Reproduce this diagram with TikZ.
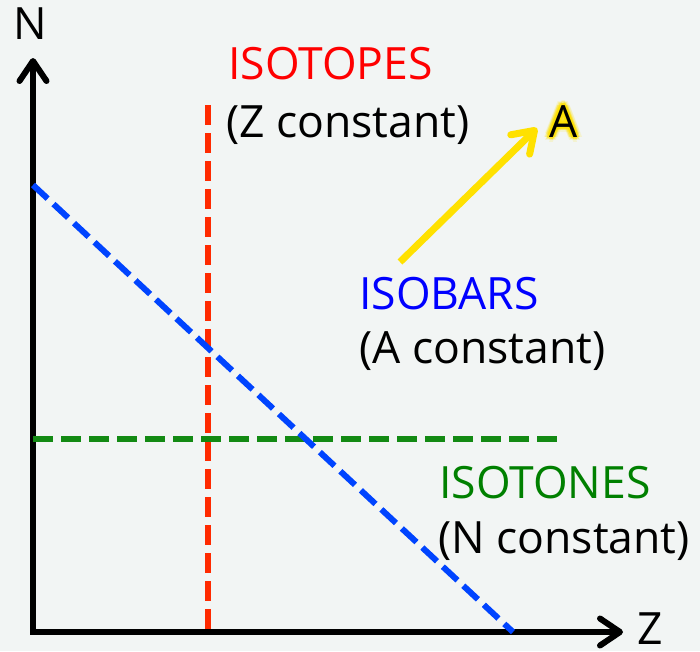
\documentclass[tikz,border=0pt]{standalone}
\usepackage{fontspec}
\setmainfont{Open Sans}
\usepackage{xcolor}
\usetikzlibrary{arrows.meta}
\definecolor{paper}{HTML}{F2F5F4}
\definecolor{zred}{HTML}{FF2A00}
\definecolor{ablue}{HTML}{0044FF}
\definecolor{ngreen}{HTML}{138A13}
\definecolor{glow}{HTML}{FFE100}

\begin{document}
\begin{tikzpicture}[x=1pt,y=-1pt,>={Straight Barb[length=20pt,width=27pt,round]},
  axis/.style={line width=6pt,<->},
  level/.style={line width=6pt,dash pattern=on 20pt off 8pt},
  lbl/.style={anchor=base west,inner sep=0pt,font=\fontsize{44.5}{52}\selectfont}]
\fill[paper] (0,0) rectangle (700,651);
\useasboundingbox (0,0) rectangle (700,651);
% axes
\coordinate (origin) at (33,632);
\coordinate (ntip) at (33,58);
\coordinate (ztip) at (623,632);
\draw[axis] (ntip) -- (origin) -- (ztip);
\node[lbl,anchor=base] (nlab) at (30,39) {N};
\node[lbl,anchor=base] (zlab) at (650,644) {Z};
% constant lines
\coordinate (zTop) at (208,105);
\coordinate (zBot) at (208,632);
\coordinate (aTop) at (33,185);
\coordinate (aBot) at (513,632);
\coordinate (nLeft) at (33,439);
\coordinate (nRight) at (562,439);
\draw[level,zred] (zTop) -- (zBot);
\draw[level,ngreen] (nLeft) -- (nRight);
\draw[level,ablue] (aTop) -- (aBot);
% labels
\node[lbl,text=red] (isotopes) at (228,79) {ISOTOPES};
\node[lbl] (zconst) at (226,137) {(Z constant)};
\node[lbl,text=blue] (isobars) at (359,309) {ISOBARS};
\node[lbl] (aconst) at (359,363) {(A constant)};
\node[lbl,text=green!50!black] (isotones) at (439,498) {ISOTONES};
\node[lbl] (nconst) at (438,553) {(N constant)};
% glowing A
\foreach \r/\o in {5/0.15,3.5/0.3,2/0.5}
  \foreach \a in {0,45,...,315}
    \node[lbl,text=glow,opacity=\o,shift={(\a:\r pt)}] at (549,137) {A};
\node[lbl] (alab) at (549,137) {A};
\coordinate (aFoot) at (400,262);
\coordinate (aHead) at (537,128);
\draw[->,glow,line width=7pt] (aFoot) -- (aHead);
\end{tikzpicture}
\end{document}
